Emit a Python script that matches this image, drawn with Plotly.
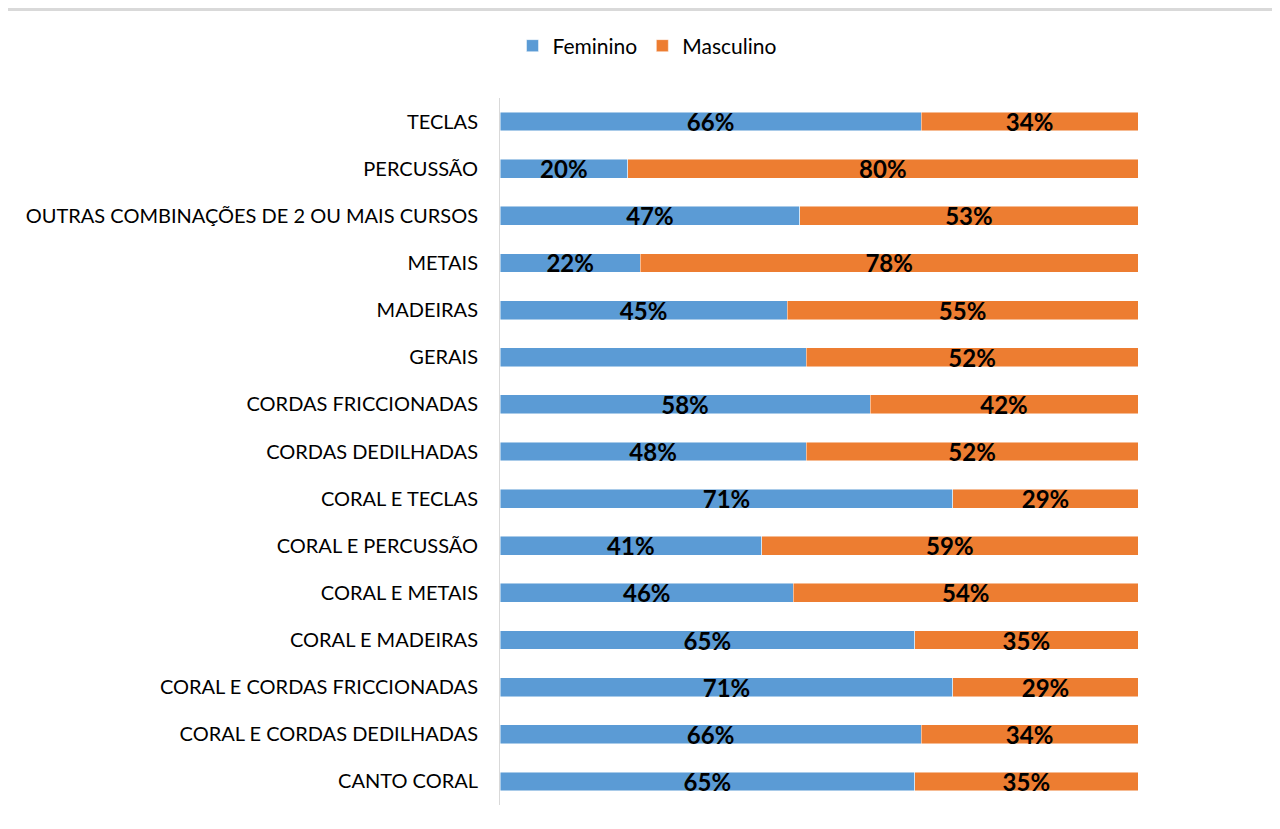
import plotly.graph_objects as go

# categories listed top to bottom as in the chart
cursos = [
    "TECLAS", "PERCUSSÃO", "OUTRAS COMBINAÇÕES DE 2 OU MAIS CURSOS", "METAIS",
    "MADEIRAS", "GERAIS", "CORDAS FRICCIONADAS", "CORDAS DEDILHADAS",
    "CORAL E TECLAS", "CORAL E PERCUSSÃO", "CORAL E METAIS", "CORAL E MADEIRAS",
    "CORAL E CORDAS FRICCIONADAS", "CORAL E CORDAS DEDILHADAS", "CANTO CORAL",
]
feminino = [66, 20, 47, 22, 45, 48, 58, 48, 71, 41, 46, 65, 71, 66, 65]
masculino = [34, 80, 53, 78, 55, 52, 42, 52, 29, 59, 54, 35, 29, 34, 35]
# the GERAIS feminine label is not shown in the original
feminino_labels = ["" if c == "GERAIS" else f"{v}%" for c, v in zip(cursos, feminino)]
masculino_labels = [f"{v}%" for v in masculino]

BLUE = "#5B9BD5"
ORANGE = "#ED7D31"
FONT = "Lato, Noto Sans, sans-serif"

fig = go.Figure()

for name, vals, labels, color in [
    ("Feminino", feminino, feminino_labels, BLUE),
    ("Masculino", masculino, masculino_labels, ORANGE),
]:
    fig.add_trace(go.Bar(
        y=cursos,
        x=vals,
        name=name,
        orientation="h",
        width=0.4,
        marker=dict(color=color, line=dict(color="rgba(255,255,255,0.6)", width=0.8)),
        text=labels,
        textposition="inside",
        insidetextanchor="middle",
        constraintext="none",
        cliponaxis=False,
        textfont=dict(family=FONT, size=24, color="black", weight="bold"),
        hoverinfo="x+y+name",
    ))

# figure size leaves room for the 8px page margin
W, H = 1264, 813
ml, mr, mt, mb = 492, 134, 90, 16
pw = W - ml - mr
ph = H - mt - mb

fig.update_layout(
    width=W,
    height=H,
    barmode="stack",
    margin=dict(l=ml, r=mr, t=mt, b=mb),
    plot_bgcolor="white",
    paper_bgcolor="white",
    font=dict(family=FONT, size=20, color="#000000"),
    legend=dict(
        orientation="h",
        x=(639 - ml) / pw,
        xanchor="center",
        y=1 + (mt - 38) / ph,
        yanchor="middle",
        font=dict(size=21),
        traceorder="normal",
        itemwidth=30,
    ),
    xaxis=dict(range=[0, 100], visible=False, fixedrange=True),
    yaxis=dict(
        categoryorder="array",
        categoryarray=cursos,
        autorange="reversed",
        showline=True,
        linecolor="#d9d9d9",
        linewidth=1,
        showgrid=False,
        ticks="",
        ticklabelstandoff=17,
        tickfont=dict(size=20),
    ),
    shapes=[dict(
        type="line",
        xref="paper",
        yref="paper",
        x0=-ml / pw,
        x1=1 + mr / pw,
        y0=1 + (mt - 1.5) / ph,
        y1=1 + (mt - 1.5) / ph,
        line=dict(color="#d9d9d9", width=3),
    )],
)

fig.write_html("out.html")
